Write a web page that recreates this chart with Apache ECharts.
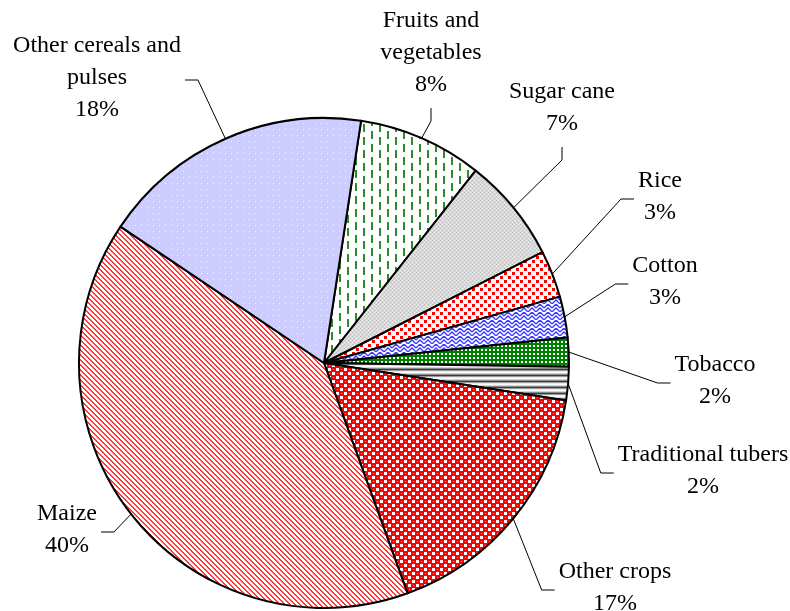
<!DOCTYPE html>
<html lang="en">
<head>
<meta charset="UTF-8">
<title>Crop shares</title>
<script src="https://cdn.jsdelivr.net/npm/echarts@6/dist/echarts.min.js"></script>
<style>
    body { margin: 0; background: #ffffff; }
    #chart { width: 790px; height: 611px; }
</style>
</head>
<body>
<div id="chart"></div>
<script>
// crops, clockwise from 12 o'clock
var crops = ['Fruits and vegetables', 'Sugar cane', 'Rice', 'Cotton', 'Tobacco',
             'Traditional tubers', 'Other crops', 'Maize', 'Other cereals and pulses'];
// share in percent
var shares = [8.2, 6.9, 3.1, 2.7, 1.9, 2.2, 17.0, 39.9, 18.0];

// how the long names break in the labels
var wrapped = {
    'Fruits and vegetables': 'Fruits and\nvegetables',
    'Other cereals and pulses': 'Other cereals and\npulses'
};

// label block centre and the side the leader line comes in from
var labelSpots = [
    [431, 53, 'bottom'],
    [562, 108, 'bottom'],
    [660, 197, 'left'],
    [665, 282, 'left'],
    [715, 381, 'left'],
    [703, 471, 'left'],
    [615, 588, 'left'],
    [67, 530, 'right'],
    [97, 78, 'right']
];
var LEG = 13;   // short end of the leader line

// small tiles used as hatch fills
function tile(w, h, draw) {
    var c = document.createElement('canvas');
    c.width = w; c.height = h;
    var g = c.getContext('2d');
    draw(g);
    return { image: c, repeat: 'repeat' };
}
var fills = [
    tile(16, 13, function (g) {          // fruits: green dashes
        g.fillStyle = '#ffffff'; g.fillRect(0, 0, 16, 13);
        g.fillStyle = '#2a8c2a';
        g.fillRect(3, 1, 2, 8);
        g.fillRect(11, 7, 2, 8); g.fillRect(11, -6, 2, 8);
    }),
    tile(4, 4, function (g) {            // sugar cane: fine grey
        g.fillStyle = '#d9d9d9'; g.fillRect(0, 0, 4, 4);
        g.fillStyle = '#b9b9b9'; g.fillRect(0, 0, 1, 1); g.fillRect(2, 2, 1, 1);
        g.fillStyle = '#f2f2f2'; g.fillRect(2, 0, 1, 1); g.fillRect(0, 2, 1, 1);
    }),
    tile(8, 8, function (g) {            // rice: red squares
        g.fillStyle = '#ffffff'; g.fillRect(0, 0, 8, 8);
        g.fillStyle = '#ff0000'; g.fillRect(0, 0, 3, 3); g.fillRect(4, 4, 3, 3);
    }),
    tile(8, 8, function (g) {            // cotton: blue weave
        g.fillStyle = '#ffffff'; g.fillRect(0, 0, 8, 8);
        g.strokeStyle = '#3a3aff'; g.lineWidth = 1.3;
        g.beginPath();
        g.moveTo(0, 4); g.lineTo(4, 0); g.lineTo(8, 4);
        g.moveTo(0, 8); g.lineTo(4, 4); g.lineTo(8, 8);
        g.moveTo(4, 0); g.lineTo(4, 2);
        g.stroke();
    }),
    tile(4, 4, function (g) {            // tobacco: green check
        g.fillStyle = '#008000'; g.fillRect(0, 0, 4, 4);
        g.fillStyle = '#ffffff'; g.fillRect(1, 1, 2, 2);
    }),
    tile(1, 6, function (g) {            // tubers: grey bands
        var rows = ['#ffffff', '#d4d4d4', '#8a8a8a', '#3c3c3c', '#9a9a9a', '#ececec'];
        for (var i = 0; i < rows.length; i++) { g.fillStyle = rows[i]; g.fillRect(0, i, 1, 1); }
    }),
    tile(8, 8, function (g) {            // other crops: red balls
        g.fillStyle = '#ff0000'; g.fillRect(0, 0, 8, 8);
        g.fillStyle = '#ffffff'; g.fillRect(0, 0, 3, 3); g.fillRect(4, 4, 3, 3);
        g.fillStyle = '#ff8c8c'; g.fillRect(5, 1, 1, 1); g.fillRect(1, 5, 1, 1);
    }),
    tile(5, 5, function (g) {            // maize: red diagonal hatch
        g.fillStyle = '#ffffff'; g.fillRect(0, 0, 5, 5);
        g.fillStyle = '#ff3a3a';
        for (var i = 0; i < 5; i++) { g.fillRect(i, i, 1, 1); g.fillRect((i + 1) % 5, i, 1, 1); }
    }),
    tile(6, 6, function (g) {            // other cereals: lavender with dots
        g.fillStyle = '#ccccff'; g.fillRect(0, 0, 6, 6);
        g.fillStyle = '#f4f4ff'; g.fillRect(3, 3, 1, 1);
    })
];

var chart = echarts.init(document.getElementById('chart'), null, { renderer: 'canvas' });

var option = {
    backgroundColor: '#ffffff',
    animation: false,
    series: [
        {
            type: 'pie',
            center: [324, 363],
            radius: 245,
            startAngle: 81.3,
            clockwise: true,
            avoidLabelOverlap: false,
            silent: true,
            itemStyle: {
                borderColor: '#000000',
                borderWidth: 2
            },
            label: {
                show: true,
                position: 'outside',
                color: '#000000',
                fontFamily: '"Liberation Serif", "Times New Roman", serif',
                fontSize: 24,
                lineHeight: 32,
                padding: [7, 4],
                formatter: function (p) {
                    return (wrapped[p.name] || p.name) + '\n' + Math.round(p.percent) + '%';
                }
            },
            labelLine: {
                show: true,
                length: 10,
                length2: 10,
                lineStyle: { color: '#000000', width: 1 }
            },
            labelLayout: function (p) {
                var s = labelSpots[p.dataIndex];
                var w = p.labelRect.width, h = p.labelRect.height;
                var x = s[0], y = s[1];
                var end, bend;
                if (s[2] === 'bottom') {
                    end = [x, y + h / 2];
                    bend = [x, y + h / 2 + LEG];
                } else if (s[2] === 'left') {
                    end = [x - w / 2, y + 2];
                    bend = [x - w / 2 - LEG, y + 2];
                } else {
                    end = [x + w / 2, y + 2];
                    bend = [x + w / 2 + LEG, y + 2];
                }
                return {
                    x: x,
                    y: y,
                    align: 'center',
                    verticalAlign: 'middle',
                    labelLinePoints: [p.labelLinePoints[0], bend, end]
                };
            },
            data: crops.map(function (name, i) {
                return { name: name, value: shares[i], itemStyle: { color: fills[i] } };
            })
        }
    ]
};

chart.setOption(option);
</script>
</body>
</html>
